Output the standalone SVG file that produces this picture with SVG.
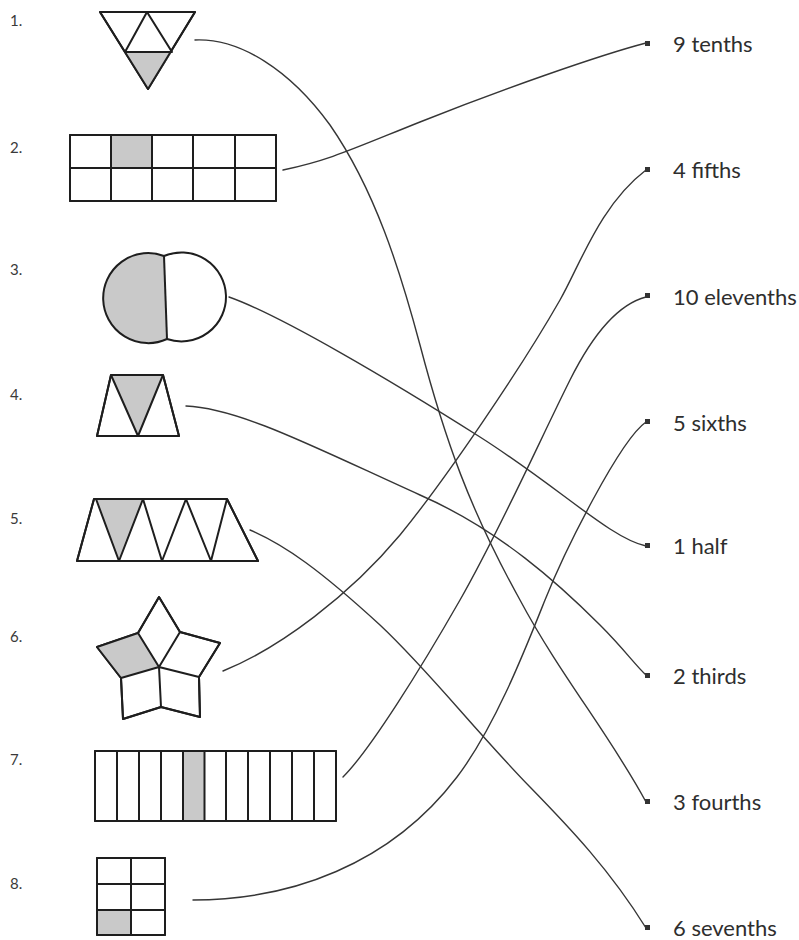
<svg xmlns="http://www.w3.org/2000/svg" width="799" height="940" viewBox="0 0 799 940">
  <style>
    .shape { fill: #ffffff; stroke: #1e1e1e; stroke-width: 2; stroke-linejoin: round; }
    .shade { fill: #c9c9c9; }
    .edge { fill: none; stroke: #1e1e1e; stroke-width: 2; stroke-linejoin: round; }
    .link { fill: none; stroke: #363636; stroke-width: 1.4; stroke-linecap: round; }
    .num { font-family: Lato, "Liberation Sans", sans-serif; font-size: 15px; fill: #3a3a3a; }
    .answer { font-family: Lato, "Liberation Sans", sans-serif; font-size: 22px; fill: #2e2e2e; }
    .dot { fill: #333333; }
  </style>
  <rect width="799" height="940" fill="#ffffff"/>

  <!-- item numbers -->
  <g id="numbers">
    <text class="num" x="10" y="26">1.</text>
    <text class="num" x="10" y="153">2.</text>
    <text class="num" x="10" y="275">3.</text>
    <text class="num" x="10" y="400">4.</text>
    <text class="num" x="10" y="524">5.</text>
    <text class="num" x="10" y="642">6.</text>
    <text class="num" x="10" y="765">7.</text>
    <text class="num" x="10" y="889">8.</text>
  </g>

  <!-- 1: inverted triangle cut into four -->
  <g id="shape1">
    <polygon class="shape" points="100,12 195,12 148,89"/>
    <polygon class="shade" points="125,52 172,52 148,89"/>
    <polyline class="edge" points="125,52 147,12 172,52 125,52"/>
    <polygon class="edge" points="100,12 195,12 148,89"/>
  </g>

  <!-- 2: 5 x 2 grid -->
  <g id="shape2">
    <rect class="shape" x="70" y="135" width="206" height="66"/>
    <rect class="shade" x="111" y="135" width="41" height="33"/>
    <path class="edge" d="M70,168H276M111,135V201M152,135V201M193,135V201M235,135V201"/>
    <rect class="edge" x="70" y="135" width="206" height="66"/>
  </g>

  <!-- 3: two joined discs -->
  <g id="shape3">
    <path class="shade" d="M164,256 A45,45 0 1 0 167,339 Z"/>
    <path class="edge" d="M164,256 A45,45 0 1 0 167,339 A44.5,44.5 0 1 0 164,256 Z"/>
    <path class="edge" d="M164,256 L167,339"/>
  </g>

  <!-- 4: trapezoid of three triangles -->
  <g id="shape4">
    <polygon class="shape" points="111,375 163,375 179,436 97,436"/>
    <polygon class="shade" points="111,375 163,375 138,436"/>
    <polyline class="edge" points="111,375 138,436 163,375"/>
    <polygon class="edge" points="111,375 163,375 179,436 97,436"/>
  </g>

  <!-- 5: strip of seven triangles -->
  <g id="shape5">
    <polygon class="shape" points="94,499 227,499 258,561 77,561"/>
    <polygon class="shade" points="96,499 143,499 119,561"/>
    <polyline class="edge" points="96,499 119,561 143,499 162,561 186,499 211,561 227,499"/>
    <polygon class="edge" points="94,499 227,499 258,561 77,561"/>
  </g>

  <!-- 6: five-petal star -->
  <g id="shape6">
    <polygon class="shape" points="159,597 180,632 220,643 199,677 200,717 161,707 123,719 121,678 97,647 138,633"/>
    <polygon class="shade" points="138,633 97,647 121,678 159,667"/>
    <path class="edge" d="M138,633L159,667L180,632M159,667L199,677M121,678L159,667L161,707"/>
    <polygon class="edge" points="159,597 180,632 220,643 199,677 200,717 161,707 123,719 121,678 97,647 138,633"/>
  </g>

  <!-- 7: strip of eleven columns -->
  <g id="shape7">
    <rect class="shape" x="95" y="751" width="241" height="70"/>
    <rect class="shade" x="183" y="751" width="21.5" height="70"/>
    <path class="edge" d="M117,751V821M139,751V821M161,751V821M183,751V821M204.5,751V821M226,751V821M248,751V821M270,751V821M292,751V821M314,751V821"/>
    <rect class="edge" x="95" y="751" width="241" height="70"/>
  </g>

  <!-- 8: 2 x 3 grid -->
  <g id="shape8">
    <rect class="shape" x="97" y="858" width="68" height="77"/>
    <rect class="shade" x="97" y="910" width="34" height="25"/>
    <path class="edge" d="M131,858V935M97,884H165M97,910H165"/>
    <rect class="edge" x="97" y="858" width="68" height="77"/>
  </g>

  <!-- answer labels with their end markers -->
  <g id="answers">
    <rect class="dot" x="645" y="41" width="5" height="5"/>
    <text class="answer" x="673" y="52">9 tenths</text>
    <rect class="dot" x="645" y="167" width="5" height="5"/>
    <text class="answer" x="673" y="178">4 fifths</text>
    <rect class="dot" x="645" y="293" width="5" height="5"/>
    <text class="answer" x="673" y="305">10 elevenths</text>
    <rect class="dot" x="645" y="419" width="5" height="5"/>
    <text class="answer" x="673" y="431">5 sixths</text>
    <rect class="dot" x="645" y="543" width="5" height="5"/>
    <text class="answer" x="673" y="554">1 half</text>
    <rect class="dot" x="645" y="673" width="5" height="5"/>
    <text class="answer" x="673" y="684">2 thirds</text>
    <rect class="dot" x="645" y="799" width="5" height="5"/>
    <text class="answer" x="673" y="810">3 fourths</text>
    <rect class="dot" x="645" y="925" width="5" height="5"/>
    <text class="answer" x="673" y="936">6 sevenths</text>
  </g>

  <!-- hand-drawn matching lines -->
  <g id="connectors">
    <path class="link" d="M195,40 C240,38 290,70 330,125 C375,190 400,270 420,345 C445,440 470,510 520,600 C560,675 610,735 646,802"/>
    <path class="link" d="M283,170 C330,160 350,150 420,122 C500,90 600,55 646,43"/>
    <path class="link" d="M229,297 C280,315 390,380 480,437 C560,488 610,538 646,546"/>
    <path class="link" d="M186,406 C240,408 320,450 420,495 C500,530 560,585 600,625 C625,650 635,665 646,675"/>
    <path class="link" d="M250,530 C285,545 320,570 380,625 C430,672 470,725 530,787 C570,828 610,870 646,928"/>
    <path class="link" d="M223,671 C280,648 350,595 400,535 C445,480 520,370 560,300 C580,265 600,205 646,170"/>
    <path class="link" d="M343,777 C370,750 420,670 460,600 C500,530 540,440 570,380 C590,340 615,305 646,297"/>
    <path class="link" d="M193,900 C290,900 390,865 457,777 C495,727 525,650 545,600 C565,550 620,440 646,422"/>
  </g>
</svg>
